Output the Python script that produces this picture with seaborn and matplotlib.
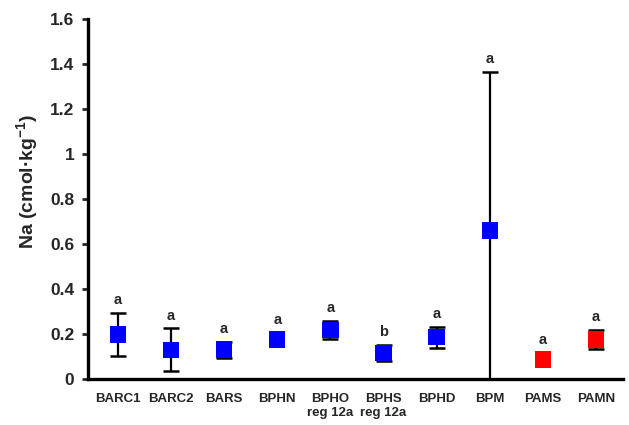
import matplotlib
matplotlib.use("Agg")
import matplotlib.pyplot as plt
import seaborn as sns
import pandas as pd

categories = ["BARC1", "BARC2", "BARS", "BPHN", "BPHO\nreg 12a", "BPHS\nreg 12a", "BPHD", "BPM", "PAMS", "PAMN"]
means = [0.198, 0.130, 0.131, 0.176, 0.219, 0.117, 0.186, 0.660, 0.087, 0.176]
errors = [0.097, 0.095, 0.035, 0.0, 0.040, 0.036, 0.047, 0.705, 0.0, 0.044]
letters = ["a", "a", "a", "a", "a", "b", "a", "a", "a", "a"]
groups = ["B", "B", "B", "B", "B", "B", "B", "B", "P", "P"]

sns.set_style("white")
plt.rcParams['font.family'] = ['Liberation Sans', 'DejaVu Sans']
plt.rcParams['mathtext.fontset'] = 'custom'
plt.rcParams['mathtext.bf'] = 'Liberation Sans:bold'
plt.rcParams['mathtext.rm'] = 'Liberation Sans:bold'
plt.rcParams['mathtext.default'] = 'bf'

df = pd.DataFrame({"pos": range(len(categories)), "mean": means, "err": errors, "group": groups})
eb = df[df["err"] > 0]

fig = plt.figure(figsize=(6.29, 4.25), dpi=100)
ax = fig.add_axes([0.14, 0.108, 0.85, 0.847])

ax.errorbar(eb["pos"], eb["mean"], yerr=eb["err"], fmt="none", ecolor="black",
            elinewidth=1.6, capsize=6, capthick=1.8, zorder=2)
sns.scatterplot(data=df, x="pos", y="mean", hue="group", palette={"B": "#0000FF", "P": "#FF0000"},
                marker="s", s=140, edgecolor="none", legend=False, ax=ax, zorder=3)

for p, m, e, l in zip(df["pos"], means, errors, letters):
    top = m + e if e > 0 else m + 0.03
    ax.text(p, top + 0.025, l, ha="center", va="bottom", fontsize=10.5, fontweight="bold")

ax.set_xlim(-0.56, 9.5)
ax.set_ylim(0, 1.6)
ax.set_yticks([0, 0.2, 0.4, 0.6, 0.8, 1.0, 1.2, 1.4, 1.6])
ax.set_yticklabels(["0", "0.2", "0.4", "0.6", "0.8", "1", "1.2", "1.4", "1.6"], fontsize=12.5, fontweight="bold")
ax.set_xticks(range(len(categories)))
ax.set_xticklabels(categories, fontsize=9.5, fontweight="bold", linespacing=1.25)
ax.tick_params(axis="x", length=0, pad=10)
ax.tick_params(axis="y", direction="out", length=4, width=2, left=True, pad=6)
ax.set_xlabel("")
ax.set_ylabel("Na (cmol·kg$^{-1}$)", fontsize=14, fontweight="bold")
ax.yaxis.set_label_coords(-0.09, 0.55)

for s in ["top", "right"]:
    ax.spines[s].set_visible(False)
for s in ["left", "bottom"]:
    ax.spines[s].set_linewidth(2.4)
    ax.spines[s].set_color("black")

fig.savefig("out.png", dpi=100)
